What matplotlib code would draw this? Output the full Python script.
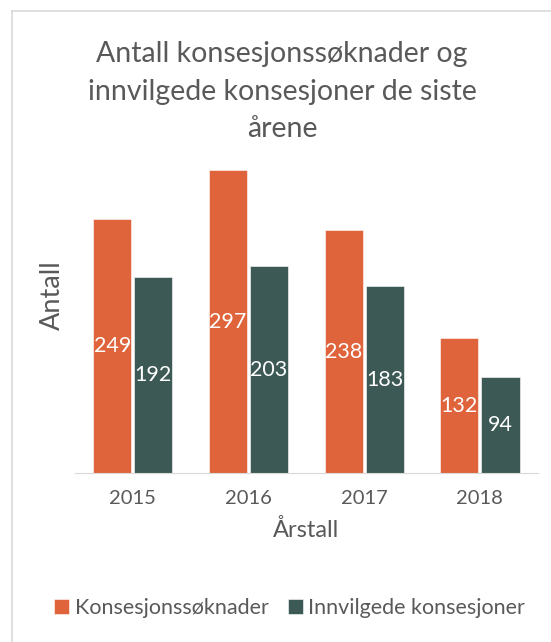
import matplotlib.pyplot as plt
from matplotlib.lines import Line2D
import numpy as np

years = ['2015', '2016', '2017', '2018']
soknader = [249, 297, 238, 132]
innvilget = [192, 203, 183, 94]

orange = '#DF633B'
teal = '#3C5955'
grey = '#595959'

plt.rcParams['font.family'] = ['Lato', 'DejaVu Sans']

fig = plt.figure(figsize=(5.51, 6.42), dpi=100)
ax = fig.add_axes([0.136, 0.263, 0.840, 0.477])

x = np.arange(len(years))
w = 0.33
b1 = ax.bar(x - w / 2 - 0.013, soknader, w, color=orange, edgecolor='white', linewidth=0.4,
            label='Konsesjonssøknader')
b2 = ax.bar(x + w / 2 + 0.013, innvilget, w, color=teal, edgecolor='white', linewidth=0.4,
            label='Innvilgede konsesjoner')

for bars in (b1, b2):
    for r in bars:
        h = r.get_height()
        ax.text(r.get_x() + r.get_width() / 2, h / 2, str(int(h)), ha='center', va='center',
                color='white', fontsize=15.5)

ax.set_xlim(-0.5, 3.5)
ax.set_ylim(0, 300)
ax.set_xticks(x)
ax.set_xticklabels(years, fontsize=14.5, color=grey)
ax.set_yticks([])
ax.tick_params(axis='x', length=0, pad=12)
for s in ['top', 'right', 'left']:
    ax.spines[s].set_visible(False)
ax.spines['bottom'].set_color('#D9D9D9')
ax.set_xlabel('Årstall', fontsize=17, color=grey, labelpad=9)
ax.set_ylabel('Antall', fontsize=19.5, color=grey)
ax.yaxis.set_label_coords(-0.022, 0.58)

fig.text(0.512, 0.857, 'Antall konsesjonssøknader og\ninnvilgede konsesjoner de siste\nårene',
         ha='center', va='center', fontsize=20.5, color=grey, linespacing=1.55)

ax.legend(loc='center', bbox_to_anchor=(0.526, 0.053), bbox_transform=fig.transFigure, ncol=2,
          frameon=False, fontsize=15.5, labelcolor=grey, handlelength=0.7, handleheight=0.7,
          handletextpad=0.25, columnspacing=0.9)

# chart frame
fig.add_artist(Line2D([12 / 551, 12 / 551], [0, 1 - 11 / 642], color='#D9D9D9', lw=1.2,
                      transform=fig.transFigure))
fig.add_artist(Line2D([12 / 551, 1], [1 - 11 / 642, 1 - 11 / 642], color='#D9D9D9', lw=1.2,
                      transform=fig.transFigure))

fig.savefig('out.png', dpi=100)
